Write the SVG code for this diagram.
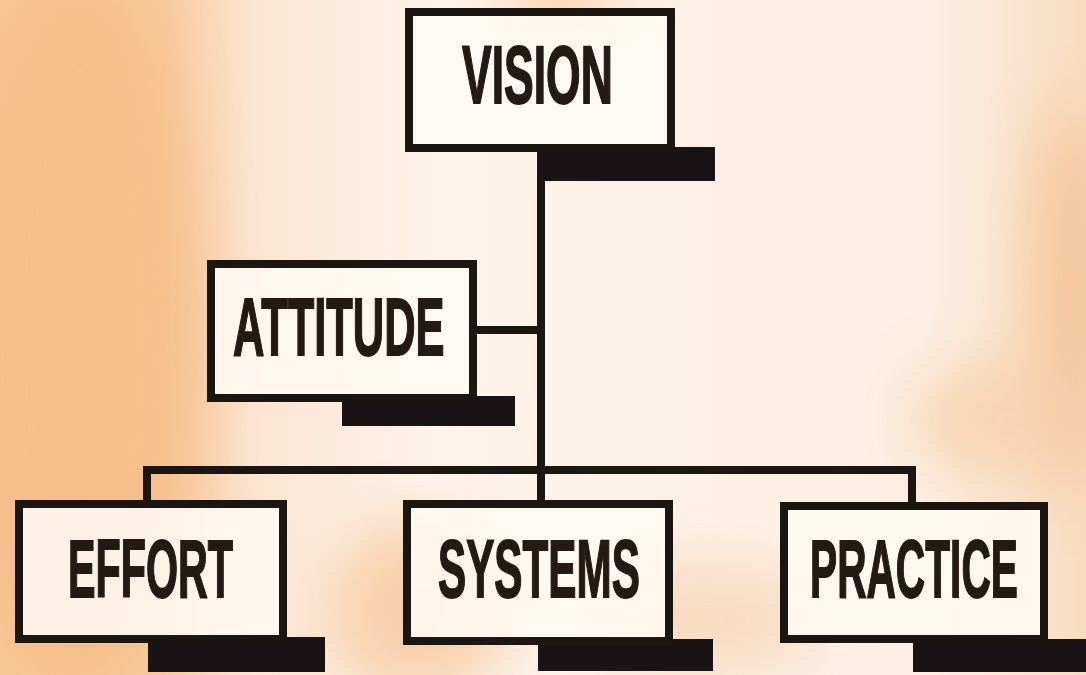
<svg xmlns="http://www.w3.org/2000/svg" width="1086" height="675" viewBox="0 0 1086 675">
<style>
.box{fill:#fffaf4;fill-opacity:0.86;stroke:#1c1612;stroke-width:8}
.shadow{fill:#1a1316}
.lbl{font-family:"Liberation Sans",Arial,sans-serif;font-weight:bold;font-size:82px;fill:#241a14;stroke:#241a14;stroke-width:1.8;text-anchor:start}
.con{fill:none;stroke:#1c1612;stroke-width:8;stroke-linecap:square}
</style>
<defs>
<linearGradient id="bg" x1="0" y1="0" x2="1" y2="0">
<stop offset="0" stop-color="#f7c595"/>
<stop offset="0.15" stop-color="#f8c99c"/>
<stop offset="0.23" stop-color="#fbe4cf"/>
<stop offset="0.4" stop-color="#fdf3ea"/>
<stop offset="0.85" stop-color="#fcefe3"/>
<stop offset="1" stop-color="#f8dcc0"/>
</linearGradient>
<filter id="blur" x="-50%" y="-50%" width="200%" height="200%"><feGaussianBlur stdDeviation="30"/></filter>
</defs>
<rect x="0" y="0" width="1086" height="675" fill="url(#bg)"/>
<g filter="url(#blur)" opacity="0.8">
<ellipse cx="80" cy="330" rx="120" ry="360" fill="#f6bd88"/>
<ellipse cx="420" cy="610" rx="90" ry="90" fill="#f6c89c"/>
<ellipse cx="1070" cy="300" rx="40" ry="200" fill="#f3c090"/>
<ellipse cx="990" cy="420" rx="80" ry="60" fill="#f6d0ab"/>
<ellipse cx="560" cy="0" rx="60" ry="30" fill="#f6c796"/>
<ellipse cx="700" cy="620" rx="120" ry="60" fill="#f7d7b8"/>
</g>
<g id="connectors">
<path class="con" d="M541 180 V470"/>
<path class="con" d="M477 330 H541"/>
<path class="con" d="M147 470 H912"/>
<path class="con" d="M147 470 V500"/>
<path class="con" d="M541 470 V500"/>
<path class="con" d="M912 470 V502"/>
</g>
<g id="vision">
<rect class="shadow" x="537" y="147" width="178" height="34"/>
<rect class="box" x="409" y="12" width="262" height="136"/>
<text class="lbl" transform="translate(462,103) scale(0.543,1)">VISION</text>
</g>
<g id="attitude">
<rect class="shadow" x="342" y="396" width="173" height="30"/>
<rect class="box" x="211" y="264" width="262" height="134"/>
<text class="lbl" transform="translate(233,355) scale(0.53,1)">ATTITUDE</text>
</g>
<g id="effort">
<rect class="shadow" x="148" y="637" width="177" height="35"/>
<rect class="box" x="19" y="504" width="264" height="135"/>
<text class="lbl" transform="translate(68,597) scale(0.503,1)">EFFORT</text>
</g>
<g id="systems">
<rect class="shadow" x="538" y="639" width="175" height="32"/>
<rect class="box" x="407" y="504" width="262" height="137"/>
<text class="lbl" transform="translate(438,597) scale(0.515,1)">SYSTEMS</text>
</g>
<g id="practice">
<rect class="shadow" x="913" y="639" width="173" height="33"/>
<rect class="box" x="784" y="506" width="260" height="133"/>
<text class="lbl" transform="translate(810,597) scale(0.496,1)">PRACTICE</text>
</g>
</svg>
